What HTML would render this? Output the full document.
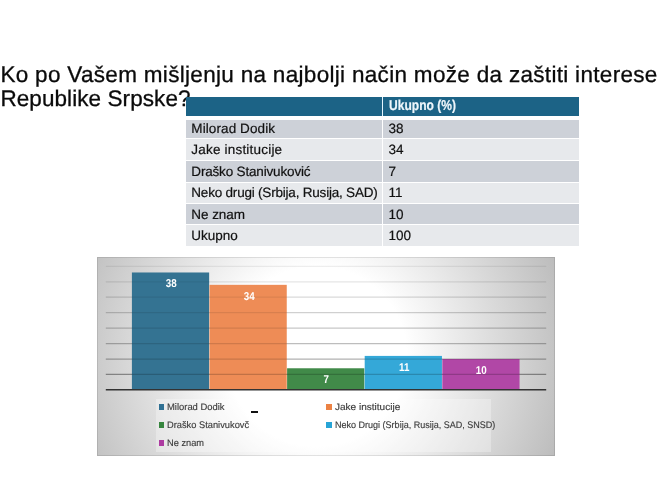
<!DOCTYPE html>
<html><head><meta charset="utf-8">
<style>
html,body{margin:0;padding:0;background:#fff;}
body{width:658px;height:493px;position:relative;overflow:hidden;font-family:"Liberation Sans",sans-serif;color:#111;text-rendering:geometricPrecision;}
.abs{position:absolute;}
.title{left:0.4px;top:62.7px;font-size:22.5px;line-height:24.3px;white-space:nowrap;color:#0a0a0a;-webkit-text-stroke:0.3px #0a0a0a;}
.row{position:absolute;left:186px;width:393px;}
.row .c2{position:absolute;left:196.3px;top:0;bottom:0;width:1px;background:#fff;}
.row span{position:absolute;top:0;font-size:13.5px;line-height:1;white-space:nowrap;-webkit-text-stroke:0.2px currentColor;}
.row .a{left:5.3px;}
.row .b{left:202.5px;}
.row .hb{font-size:14.3px;left:203px;transform-origin:0 0;transform:scaleX(0.843);}
.dk{background:#cdd1d8;}
.lt{background:#e7e9ec;}
.hd{background:#1c6386;color:#eef6fb;font-weight:bold;}
#chart{left:97px;top:257px;width:458px;height:199px;background:#fff;overflow:hidden;}
.g{position:absolute;left:0;top:0;width:100%;height:100%;}
.bar{position:absolute;}
.bar span{position:absolute;left:0;right:0;text-align:center;color:#fff;font-weight:bold;font-size:11.4px;line-height:1;transform:scaleX(.86);padding-left:1.6px;}
.leg{position:absolute;font-size:9.5px;line-height:1;color:#3c3c3c;white-space:nowrap;-webkit-text-stroke:0.15px #3c3c3c;}
.leg b{font-weight:normal;display:inline-block;transform-origin:0 0;}
.leg i{position:absolute;left:-8.5px;top:1.1px;width:5.4px;height:5.5px;}
#wrap{position:absolute;left:0;top:0;width:658px;height:493px;will-change:transform;background:#fff;}
</style></head><body>
<div id="wrap">
<div class="abs title"><span style="letter-spacing:0.31px">Ko po Vašem mišljenju na najbolji način može da zaštiti interese</span><br><span style="letter-spacing:0.08px">Republike Srpske?</span></div>

<div class="row hd" style="top:96.8px;height:18.8px;"><div class="c2" style="background:#e4f6ff"></div><span class="b hb" style="top:2.6px;">Ukupno (%)</span></div>
<div class="row dk" style="top:119.9px;height:18.1px;"><div class="c2"></div><span class="a" style="top:2.3px;letter-spacing:0.1px;">Milorad Dodik</span><span class="b" style="top:2.3px;">38</span></div>
<div class="row lt" style="top:139.1px;height:21px;"><div class="c2"></div><span class="a" style="top:4.4px;letter-spacing:0.2px;">Jake institucije</span><span class="b" style="top:4.4px;">34</span></div>
<div class="row dk" style="top:161.1px;height:20.6px;"><div class="c2"></div><span class="a" style="top:3.9px;letter-spacing:-0.17px;">Draško Stanivuković</span><span class="b" style="top:3.9px;">7</span></div>
<div class="row lt" style="top:182.9px;height:20.1px;"><div class="c2"></div><span class="a" style="top:2.9px;letter-spacing:-0.205px;">Neko drugi (Srbija, Rusija, SAD)</span><span class="b" style="top:2.9px;">11</span></div>
<div class="row dk" style="top:204.2px;height:19.5px;"><div class="c2"></div><span class="a" style="top:3.5px;letter-spacing:-0.05px;">Ne znam</span><span class="b" style="top:3.5px;">10</span></div>
<div class="row lt" style="top:224.8px;height:21px;"><div class="c2"></div><span class="a" style="top:4.4px;letter-spacing:0px;">Ukupno</span><span class="b" style="top:4.4px;">100</span></div>

<div class="abs" id="chart">
  <div class="g" style="background:radial-gradient(circle at 48% 50%, #ffffff 90px, #bcbcbc 258px);"></div>
  <div class="g" style="box-sizing:border-box;border:1px solid rgba(0,0,0,.1);"></div>
  <svg class="g" viewBox="0 0 458 199" width="458" height="199">
    <defs><clipPath id="bc">
      <rect x="34.90" y="15.48" width="77.25" height="117.42"/>
      <rect x="112.50" y="27.84" width="77.25" height="105.06"/>
      <rect x="190.10" y="111.27" width="77.25" height="21.63"/>
      <rect x="267.70" y="98.91" width="77.25" height="33.99"/>
      <rect x="345.30" y="102.00" width="77.25" height="30.90"/>
    </clipPath></defs>
    <line x1="8.8" x2="449.2" y1="9.30" y2="9.30" stroke="#000" stroke-opacity="0.065" stroke-width="1.25"/>
    <line x1="8.8" x2="449.2" y1="24.75" y2="24.75" stroke="#000" stroke-opacity="0.100" stroke-width="1.25"/>
    <line x1="8.8" x2="449.2" y1="40.20" y2="40.20" stroke="#000" stroke-opacity="0.150" stroke-width="1.25"/>
    <line x1="8.8" x2="449.2" y1="55.65" y2="55.65" stroke="#000" stroke-opacity="0.185" stroke-width="1.25"/>
    <line x1="8.8" x2="449.2" y1="71.10" y2="71.10" stroke="#000" stroke-opacity="0.220" stroke-width="1.25"/>
    <line x1="8.8" x2="449.2" y1="86.55" y2="86.55" stroke="#000" stroke-opacity="0.260" stroke-width="1.25"/>
    <line x1="8.8" x2="449.2" y1="102.00" y2="102.00" stroke="#000" stroke-opacity="0.310" stroke-width="1.25"/>
    <line x1="8.8" x2="449.2" y1="117.45" y2="117.45" stroke="#000" stroke-opacity="0.380" stroke-width="1.25"/>
    <rect x="34.90" y="15.48" width="77.25" height="117.42" fill="rgb(52,115,146)"/>
    <rect x="112.50" y="27.84" width="77.25" height="105.06" fill="rgb(238,140,86)"/>
    <rect x="190.10" y="111.27" width="77.25" height="21.63" fill="rgb(65,138,73)"/>
    <rect x="267.70" y="98.91" width="77.25" height="33.99" fill="rgb(52,168,216)"/>
    <rect x="345.30" y="102.00" width="77.25" height="30.90" fill="rgb(177,71,166)"/>
    <g clip-path="url(#bc)">
      <line x1="8.8" x2="449.2" y1="9.30" y2="9.30" stroke="#000" stroke-opacity="0.040" stroke-width="1.25"/>
      <line x1="8.8" x2="449.2" y1="24.75" y2="24.75" stroke="#000" stroke-opacity="0.058" stroke-width="1.25"/>
      <line x1="8.8" x2="449.2" y1="40.20" y2="40.20" stroke="#000" stroke-opacity="0.075" stroke-width="1.25"/>
      <line x1="8.8" x2="449.2" y1="55.65" y2="55.65" stroke="#000" stroke-opacity="0.092" stroke-width="1.25"/>
      <line x1="8.8" x2="449.2" y1="71.10" y2="71.10" stroke="#000" stroke-opacity="0.110" stroke-width="1.25"/>
      <line x1="8.8" x2="449.2" y1="86.55" y2="86.55" stroke="#000" stroke-opacity="0.130" stroke-width="1.25"/>
      <line x1="8.8" x2="449.2" y1="102.00" y2="102.00" stroke="#000" stroke-opacity="0.155" stroke-width="1.25"/>
      <line x1="8.8" x2="449.2" y1="117.45" y2="117.45" stroke="#000" stroke-opacity="0.190" stroke-width="1.25"/>
    </g>
    <line x1="8.8" x2="449.2" y1="132.75" y2="132.75" stroke="#333" stroke-width="1.6"/>
  </svg>
  <div class="bar" style="left:34.90px;width:77px;top:15.48px;height:20px;"><span style="top:6.8px;">38</span></div>
  <div class="bar" style="left:112.50px;width:77px;top:27.84px;height:20px;"><span style="top:6.8px;">34</span></div>
  <div class="bar" style="left:190.10px;width:77px;top:111.27px;height:20px;"><span style="top:6.8px;">7</span></div>
  <div class="bar" style="left:267.70px;width:77px;top:98.91px;height:20px;"><span style="top:6.8px;">11</span></div>
  <div class="bar" style="left:345.30px;width:77px;top:102.00px;height:20px;"><span style="top:6.8px;">10</span></div>

  <div class="abs" style="left:58.7px;top:141.6px;width:335.5px;height:53.3px;background:rgba(255,255,255,.3);"></div>
  <div class="leg" style="left:70.4px;top:146.1px;"><i style="background:#2f7093"></i><b id="l1" style="transform:scaleX(0.990)">Milorad Dodik</b></div>
  <div class="leg" style="left:237.6px;top:146.1px;"><i style="background:#ec8244;width:6.3px"></i><b id="l2" style="transform:scaleX(1.056)">Jake institucije</b></div>
  <div class="leg" style="left:70.4px;top:164.4px;"><i style="background:#36853e"></i><b id="l3" style="transform:scaleX(0.978)">Draško Stanivukovč</b></div>
  <div class="leg" style="left:237.6px;top:164.4px;"><i style="background:#27a4d6;width:6.3px"></i><b id="l4" style="transform:scaleX(0.949)">Neko Drugi (Srbija, Rusija, SAD, SNSD)</b></div>
  <div class="leg" style="left:70.4px;top:182.4px;"><i style="background:#ad3ba1"></i><b id="l5" style="transform:scaleX(0.973)">Ne znam</b></div>
  <div class="abs" style="left:154.2px;top:153.6px;width:6.8px;height:2.1px;background:#111;"></div>
</div>
</div>
</body></html>
